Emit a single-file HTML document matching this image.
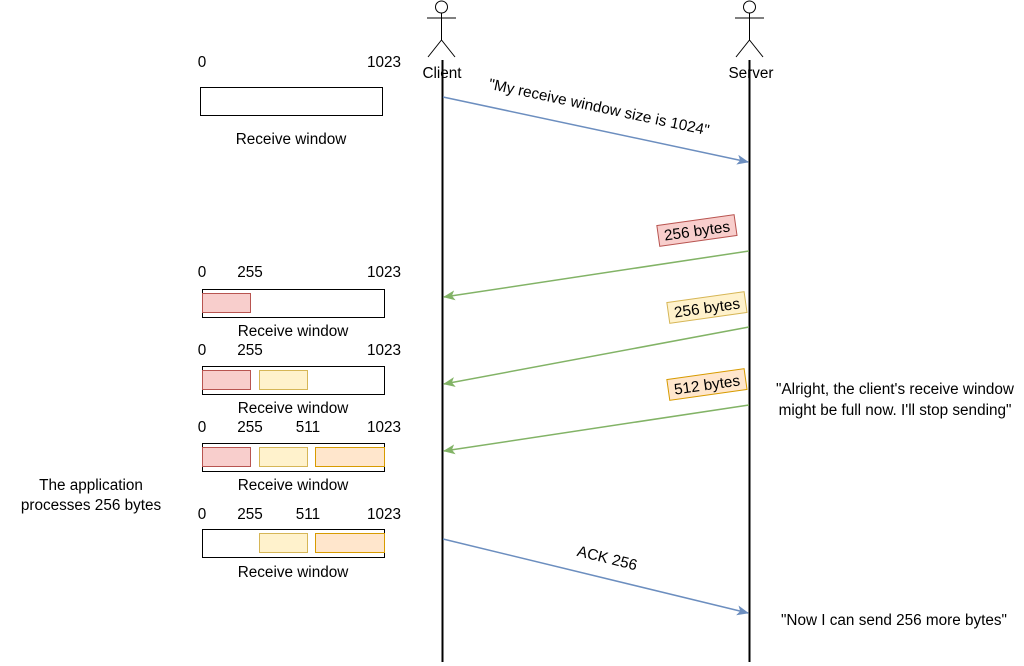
<!DOCTYPE html>
<html><head><meta charset="utf-8"><style>
html,body{margin:0;padding:0;background:#fff;}
svg{display:block;font-family:"Liberation Sans",Arial,sans-serif;font-size:15.3px;}
</style></head><body>
<svg width="1024" height="666" viewBox="0 0 1024 666" xmlns="http://www.w3.org/2000/svg">
<defs>
<marker id="ab" markerWidth="12" markerHeight="10" refX="11" refY="5" orient="auto" markerUnits="userSpaceOnUse"><path d="M0,0 L12,5 L0,10 L3,5 Z" fill="#6c8ebf"/></marker>
<marker id="ag" markerWidth="12" markerHeight="10" refX="11" refY="5" orient="auto" markerUnits="userSpaceOnUse"><path d="M0,0 L12,5 L0,10 L3,5 Z" fill="#82b366"/></marker>
</defs>
<g stroke="#000" stroke-width="1" fill="none">
<circle cx="441.5" cy="7" r="6" fill="#fff"/>
<line x1="441.5" y1="13" x2="441.5" y2="40"/>
<line x1="427" y1="18" x2="456" y2="18"/>
<line x1="441.5" y1="40" x2="428" y2="57"/>
<line x1="441.5" y1="40" x2="455" y2="57"/>
<circle cx="749.5" cy="7" r="6" fill="#fff"/>
<line x1="749.5" y1="13" x2="749.5" y2="40"/>
<line x1="735" y1="18" x2="764" y2="18"/>
<line x1="749.5" y1="40" x2="736" y2="57"/>
<line x1="749.5" y1="40" x2="763" y2="57"/>
</g>
<line x1="442.5" y1="60" x2="442.5" y2="662" stroke="#000" stroke-width="2"/>
<line x1="749.5" y1="60" x2="749.5" y2="662" stroke="#000" stroke-width="2"/>
<text x="442" y="78" text-anchor="middle">Client</text>
<text x="751" y="78" text-anchor="middle">Server</text>

<line x1="443" y1="97" x2="748" y2="162" stroke="#6c8ebf" stroke-width="1.5" marker-end="url(#ab)"/>
<text transform="translate(598,112) rotate(12)" text-anchor="middle">"My receive window size is 1024"</text>
<line x1="749" y1="251" x2="444" y2="297" stroke="#82b366" stroke-width="1.5" marker-end="url(#ag)"/>
<line x1="749" y1="327" x2="444" y2="384" stroke="#82b366" stroke-width="1.5" marker-end="url(#ag)"/>
<line x1="749" y1="405" x2="444" y2="451" stroke="#82b366" stroke-width="1.5" marker-end="url(#ag)"/>
<line x1="443" y1="539" x2="748" y2="613" stroke="#6c8ebf" stroke-width="1.5" marker-end="url(#ab)"/>
<text transform="translate(606,563) rotate(14)" text-anchor="middle">ACK 256</text>

<g transform="translate(697,231) rotate(-8)">
<rect x="-39" y="-11" width="78" height="21" fill="#f8cecc" stroke="#b85450"/>
<text x="0" y="5" text-anchor="middle">256 bytes</text></g>
<g transform="translate(707,308) rotate(-8)">
<rect x="-39" y="-11" width="78" height="21" fill="#fff2cc" stroke="#d6b656"/>
<text x="0" y="5" text-anchor="middle">256 bytes</text></g>
<g transform="translate(707,385) rotate(-8)">
<rect x="-39" y="-11" width="78" height="21" fill="#ffe6cc" stroke="#d79b00"/>
<text x="0" y="5" text-anchor="middle">512 bytes</text></g>

<text x="895" y="394" text-anchor="middle">"Alright, the client's receive window</text>
<text x="895" y="415" text-anchor="middle">might be full now. I'll stop sending"</text>
<text x="894" y="625" text-anchor="middle">"Now I can send 256 more bytes"</text>
<text x="91" y="490" text-anchor="middle">The application</text>
<text x="91" y="510" text-anchor="middle">processes 256 bytes</text>

<text x="202" y="67" text-anchor="middle">0</text>
<text x="384" y="67" text-anchor="middle">1023</text>
<rect x="200.5" y="87.5" width="182" height="28" fill="#fff" stroke="#000"/>
<text x="291" y="144" text-anchor="middle">Receive window</text>

<text x="202" y="277" text-anchor="middle">0</text>
<text x="250" y="277" text-anchor="middle">255</text>
<text x="384" y="277" text-anchor="middle">1023</text>
<rect x="202.5" y="289.5" width="182" height="28" fill="#fff" stroke="#000"/>
<rect x="202.5" y="293.5" width="48" height="19" fill="#f8cecc" stroke="#b85450"/>
<text x="293" y="336" text-anchor="middle">Receive window</text>

<text x="202" y="355" text-anchor="middle">0</text>
<text x="250" y="355" text-anchor="middle">255</text>
<text x="384" y="355" text-anchor="middle">1023</text>
<rect x="202.5" y="366.5" width="182" height="28" fill="#fff" stroke="#000"/>
<rect x="202.5" y="370.5" width="48" height="19" fill="#f8cecc" stroke="#b85450"/>
<rect x="259.5" y="370.5" width="48" height="19" fill="#fff2cc" stroke="#d6b656"/>
<text x="293" y="413" text-anchor="middle">Receive window</text>

<text x="202" y="432" text-anchor="middle">0</text>
<text x="250" y="432" text-anchor="middle">255</text>
<text x="308" y="432" text-anchor="middle">511</text>
<text x="384" y="432" text-anchor="middle">1023</text>
<rect x="202.5" y="443.5" width="182" height="28" fill="#fff" stroke="#000"/>
<rect x="202.5" y="447.5" width="48" height="19" fill="#f8cecc" stroke="#b85450"/>
<rect x="259.5" y="447.5" width="48" height="19" fill="#fff2cc" stroke="#d6b656"/>
<rect x="315.5" y="447.5" width="69" height="19" fill="#ffe6cc" stroke="#d79b00"/>
<text x="293" y="490" text-anchor="middle">Receive window</text>

<text x="202" y="519" text-anchor="middle">0</text>
<text x="250" y="519" text-anchor="middle">255</text>
<text x="308" y="519" text-anchor="middle">511</text>
<text x="384" y="519" text-anchor="middle">1023</text>
<rect x="202.5" y="529.5" width="182" height="28" fill="#fff" stroke="#000"/>
<rect x="259.5" y="533.5" width="48" height="19" fill="#fff2cc" stroke="#d6b656"/>
<rect x="315.5" y="533.5" width="69" height="19" fill="#ffe6cc" stroke="#d79b00"/>
<text x="293" y="577" text-anchor="middle">Receive window</text>
</svg>
</body></html>
